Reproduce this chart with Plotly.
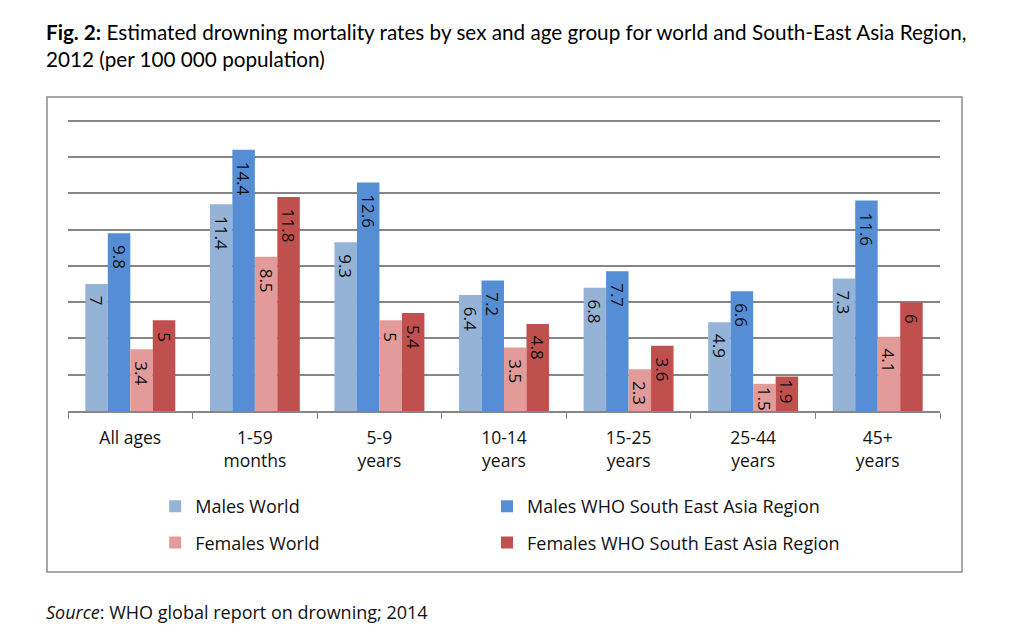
import plotly.graph_objects as go

categories = ["All ages", "1-59<br>months", "5-9<br>years", "10-14<br>years",
              "15-25<br>years", "25-44<br>years", "45+<br>years"]
males_world = [7, 11.4, 9.3, 6.4, 6.8, 4.9, 7.3]
males_sear = [9.8, 14.4, 12.6, 7.2, 7.7, 6.6, 11.6]
females_world = [3.4, 8.5, 5, 3.5, 2.3, 1.5, 4.1]
females_sear = [5, 11.8, 5.4, 4.8, 3.6, 1.9, 6]

series = [
    ("Males World", males_world, "#95B3D7", "legend"),
    ("Males WHO South East Asia Region", males_sear, "#558ED5", "legend2"),
    ("Females World", females_world, "#E39B9A", "legend3"),
    ("Females WHO South East Asia Region", females_sear, "#C0504D", "legend4"),
]

FONT = "Open Sans"
TXT = "#111111"
PAD = "\u00a0\u00a0"


def label(v):
    # small top padding inside the bar, except for bars too short to hold it
    return (PAD + str(v)) if v >= 2 else str(v)


fig = go.Figure()
for name, vals, color, lg in series:
    fig.add_trace(go.Bar(
        x=categories, y=vals, name=name, marker_color=color,
        marker_line_width=0,
        text=[label(v) for v in vals], textposition="inside",
        insidetextanchor="end", textangle=90, cliponaxis=False,
        textfont=dict(family=FONT, size=17, color=TXT),
        legend=lg, showlegend=True,
    ))

legend_style = dict(orientation="h", xanchor="left", yanchor="top",
                    font=dict(family=FONT, size=18, color=TXT),
                    bgcolor="rgba(0,0,0,0)")

fig.update_layout(
    width=1024, height=633, showlegend=True,
    paper_bgcolor="white", plot_bgcolor="white",
    margin=dict(l=60, r=92, t=111, b=230, autoexpand=False),
    barmode="group", bargap=0.278, bargroupgap=0,
    uniformtext=dict(minsize=17, mode="show"),
    font=dict(family=FONT, size=17, color=TXT),
    xaxis=dict(
        showgrid=False, showline=True, linecolor="#868686", linewidth=1.5,
        ticks="outside", tickson="boundaries", ticklen=6, tickcolor="#868686",
        ticklabelstandoff=10,
        tickfont=dict(family=FONT, size=17.5, color=TXT),
    ),
    yaxis=dict(
        range=[0, 16.1], dtick=2, showticklabels=False, showgrid=True,
        gridcolor="#868686", gridwidth=1.5, zeroline=False, showline=False,
    ),
    legend=dict(x=0.1, y=-0.264, **legend_style),
    legend2=dict(x=0.4805, y=-0.264, **legend_style),
    legend3=dict(x=0.1, y=-0.3884, **legend_style),
    legend4=dict(x=0.4805, y=-0.3884, **legend_style),
    shapes=[dict(
        type="rect", xref="paper", yref="paper",
        x0=-0.0241, x1=1.0252, y0=-0.5514, y1=1.0753,
        line=dict(color="#8c8c8c", width=1.5), fillcolor="rgba(0,0,0,0)",
        layer="below",
    )],
    annotations=[
        dict(
            text="<b>Fig. 2:</b> Estimated drowning mortality rates by sex and age group for world and South-East Asia Region,<br>2012 (per 100 000 population)",
            xref="paper", yref="paper", x=-0.0275, xanchor="left",
            y=1.3459, yanchor="top", align="left", showarrow=False,
            font=dict(family="Lato", size=20.7, color="#000000"),
        ),
        dict(
            text="<i>Source</i>: WHO global report on drowning; 2014",
            xref="paper", yref="paper", x=-0.0275, xanchor="left",
            y=-0.690, yanchor="middle", showarrow=False,
            font=dict(family=FONT, size=18, color=TXT),
        ),
    ],
)

fig.write_html("out.html")
